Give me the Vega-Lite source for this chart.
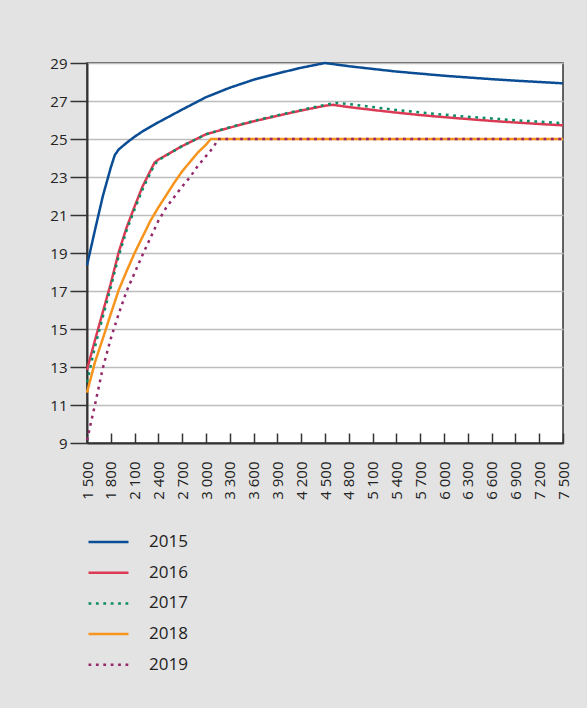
{
  "$schema": "https://vega.github.io/schema/vega-lite/v6.json",
  "width": 476,
  "height": 380,
  "autosize": {"type": "none"},
  "padding": {"left": 87, "top": 63, "right": 24, "bottom": 265},
  "background": "#e3e3e3",
  "config": {
    "font": "Open Sans",
    "view": {"fill": "#ffffff", "stroke": "#333333", "strokeWidth": 1.5}
  },
  "data": {
    "values": [
      {"x": 1500, "v": 18.35, "year": "2015"},
      {"x": 1600, "v": 20.2, "year": "2015"},
      {"x": 1700, "v": 22.0, "year": "2015"},
      {"x": 1800, "v": 23.5, "year": "2015"},
      {"x": 1850, "v": 24.15, "year": "2015"},
      {"x": 1900, "v": 24.45, "year": "2015"},
      {"x": 2000, "v": 24.8, "year": "2015"},
      {"x": 2100, "v": 25.12, "year": "2015"},
      {"x": 2200, "v": 25.4, "year": "2015"},
      {"x": 2400, "v": 25.88, "year": "2015"},
      {"x": 2700, "v": 26.55, "year": "2015"},
      {"x": 3000, "v": 27.2, "year": "2015"},
      {"x": 3300, "v": 27.7, "year": "2015"},
      {"x": 3600, "v": 28.12, "year": "2015"},
      {"x": 3900, "v": 28.45, "year": "2015"},
      {"x": 4200, "v": 28.75, "year": "2015"},
      {"x": 4500, "v": 29.0, "year": "2015"},
      {"x": 4800, "v": 28.83, "year": "2015"},
      {"x": 5100, "v": 28.69, "year": "2015"},
      {"x": 5400, "v": 28.55, "year": "2015"},
      {"x": 5700, "v": 28.44, "year": "2015"},
      {"x": 6000, "v": 28.33, "year": "2015"},
      {"x": 6300, "v": 28.24, "year": "2015"},
      {"x": 6600, "v": 28.15, "year": "2015"},
      {"x": 6900, "v": 28.07, "year": "2015"},
      {"x": 7200, "v": 28.0, "year": "2015"},
      {"x": 7500, "v": 27.93, "year": "2015"},

      {"x": 1500, "v": 12.85, "year": "2016"},
      {"x": 1600, "v": 14.4, "year": "2016"},
      {"x": 1700, "v": 15.9, "year": "2016"},
      {"x": 1800, "v": 17.4, "year": "2016"},
      {"x": 1900, "v": 19.05, "year": "2016"},
      {"x": 2000, "v": 20.35, "year": "2016"},
      {"x": 2100, "v": 21.45, "year": "2016"},
      {"x": 2200, "v": 22.5, "year": "2016"},
      {"x": 2350, "v": 23.75, "year": "2016"},
      {"x": 2400, "v": 23.92, "year": "2016"},
      {"x": 2700, "v": 24.63, "year": "2016"},
      {"x": 3000, "v": 25.25, "year": "2016"},
      {"x": 3300, "v": 25.6, "year": "2016"},
      {"x": 3600, "v": 25.93, "year": "2016"},
      {"x": 3900, "v": 26.22, "year": "2016"},
      {"x": 4200, "v": 26.5, "year": "2016"},
      {"x": 4500, "v": 26.75, "year": "2016"},
      {"x": 4600, "v": 26.8, "year": "2016"},
      {"x": 4800, "v": 26.68, "year": "2016"},
      {"x": 5100, "v": 26.53, "year": "2016"},
      {"x": 5400, "v": 26.39, "year": "2016"},
      {"x": 5700, "v": 26.26, "year": "2016"},
      {"x": 6000, "v": 26.15, "year": "2016"},
      {"x": 6300, "v": 26.05, "year": "2016"},
      {"x": 6600, "v": 25.95, "year": "2016"},
      {"x": 6900, "v": 25.87, "year": "2016"},
      {"x": 7200, "v": 25.79, "year": "2016"},
      {"x": 7500, "v": 25.72, "year": "2016"},

      {"x": 1500, "v": 12.2, "year": "2017"},
      {"x": 1600, "v": 14.05, "year": "2017"},
      {"x": 1700, "v": 15.65, "year": "2017"},
      {"x": 1800, "v": 17.2, "year": "2017"},
      {"x": 1900, "v": 18.85, "year": "2017"},
      {"x": 2000, "v": 20.2, "year": "2017"},
      {"x": 2100, "v": 21.3, "year": "2017"},
      {"x": 2200, "v": 22.35, "year": "2017"},
      {"x": 2350, "v": 23.65, "year": "2017"},
      {"x": 2400, "v": 23.88, "year": "2017"},
      {"x": 2700, "v": 24.63, "year": "2017"},
      {"x": 3000, "v": 25.25, "year": "2017"},
      {"x": 3300, "v": 25.62, "year": "2017"},
      {"x": 3600, "v": 25.95, "year": "2017"},
      {"x": 3900, "v": 26.25, "year": "2017"},
      {"x": 4200, "v": 26.53, "year": "2017"},
      {"x": 4500, "v": 26.8, "year": "2017"},
      {"x": 4650, "v": 26.9, "year": "2017"},
      {"x": 4800, "v": 26.84, "year": "2017"},
      {"x": 5100, "v": 26.68, "year": "2017"},
      {"x": 5400, "v": 26.53, "year": "2017"},
      {"x": 5700, "v": 26.4, "year": "2017"},
      {"x": 6000, "v": 26.28, "year": "2017"},
      {"x": 6300, "v": 26.17, "year": "2017"},
      {"x": 6600, "v": 26.08, "year": "2017"},
      {"x": 6900, "v": 25.99, "year": "2017"},
      {"x": 7200, "v": 25.91, "year": "2017"},
      {"x": 7500, "v": 25.83, "year": "2017"},

      {"x": 1500, "v": 11.65, "year": "2018"},
      {"x": 1600, "v": 13.25, "year": "2018"},
      {"x": 1700, "v": 14.5, "year": "2018"},
      {"x": 1800, "v": 15.8, "year": "2018"},
      {"x": 1900, "v": 17.05, "year": "2018"},
      {"x": 2000, "v": 18.05, "year": "2018"},
      {"x": 2100, "v": 19.0, "year": "2018"},
      {"x": 2200, "v": 19.85, "year": "2018"},
      {"x": 2300, "v": 20.7, "year": "2018"},
      {"x": 2400, "v": 21.4, "year": "2018"},
      {"x": 2500, "v": 22.05, "year": "2018"},
      {"x": 2600, "v": 22.7, "year": "2018"},
      {"x": 2700, "v": 23.3, "year": "2018"},
      {"x": 2800, "v": 23.8, "year": "2018"},
      {"x": 2900, "v": 24.3, "year": "2018"},
      {"x": 3000, "v": 24.7, "year": "2018"},
      {"x": 3060, "v": 25.0, "year": "2018"},
      {"x": 4500, "v": 25.0, "year": "2018"},
      {"x": 7500, "v": 25.0, "year": "2018"},

      {"x": 1500, "v": 9.15, "year": "2019"},
      {"x": 1600, "v": 11.0, "year": "2019"},
      {"x": 1700, "v": 12.95, "year": "2019"},
      {"x": 1800, "v": 14.5, "year": "2019"},
      {"x": 1900, "v": 15.8, "year": "2019"},
      {"x": 2000, "v": 17.0, "year": "2019"},
      {"x": 2100, "v": 17.95, "year": "2019"},
      {"x": 2200, "v": 18.9, "year": "2019"},
      {"x": 2300, "v": 19.8, "year": "2019"},
      {"x": 2400, "v": 20.7, "year": "2019"},
      {"x": 2500, "v": 21.4, "year": "2019"},
      {"x": 2600, "v": 21.95, "year": "2019"},
      {"x": 2700, "v": 22.5, "year": "2019"},
      {"x": 2800, "v": 23.0, "year": "2019"},
      {"x": 2900, "v": 23.6, "year": "2019"},
      {"x": 3000, "v": 24.1, "year": "2019"},
      {"x": 3100, "v": 24.6, "year": "2019"},
      {"x": 3150, "v": 25.0, "year": "2019"},
      {"x": 4500, "v": 25.0, "year": "2019"},
      {"x": 7500, "v": 25.0, "year": "2019"}
    ]
  },
  "mark": {"type": "line"},
  "encoding": {
    "x": {
      "field": "x",
      "type": "quantitative",
      "scale": {"domain": [1500, 7500], "nice": false, "zero": false},
      "axis": {
        "title": null,
        "grid": false,
        "values": [1500, 1800, 2100, 2400, 2700, 3000, 3300, 3600, 3900, 4200, 4500, 4800, 5100, 5400, 5700, 6000, 6300, 6600, 6900, 7200, 7500],
        "labelExpr": "replace(format(datum.value, ',d'), ',', ' ')",
        "labelAngle": -90,
        "labelFontSize": 15,
        "labelColor": "#222222",
        "labelPadding": 28,
        "tickSize": -10,
        "tickColor": "#333333",
        "tickWidth": 1.5,
        "domainColor": "#333333",
        "domainWidth": 2,
        "labelOverlap": false,
        "labelFlush": false
      }
    },
    "y": {
      "field": "v",
      "type": "quantitative",
      "scale": {"domain": [9, 29], "nice": false, "zero": false},
      "axis": {
        "title": null,
        "values": [9, 11, 13, 15, 17, 19, 21, 23, 25, 27, 29],
        "gridColor": "#bdbdbd",
        "gridWidth": 1.5,
        "labelFontSize": 15,
        "labelColor": "#222222",
        "labelPadding": 3,
        "tickSize": 17,
        "tickColor": "#333333",
        "tickWidth": 1.5,
        "domainColor": "#333333",
        "domainWidth": 2,
        "labelOverlap": false,
        "labelFlush": false
      }
    },
    "strokeWidth": {
      "field": "year",
      "type": "nominal",
      "scale": {
        "domain": ["2015", "2016", "2017", "2018", "2019"],
        "range": [2.5, 2.5, 3.5, 2.5, 3.5]
      },
      "legend": null
    },
    "color": {
      "field": "year",
      "type": "nominal",
      "scale": {
        "domain": ["2015", "2016", "2017", "2018", "2019"],
        "range": ["#0a4d94", "#dc3a54", "#0b8c66", "#f7941d", "#93296a"]
      },
      "legend": {
        "orient": "none",
        "legendX": 0,
        "legendY": 469,
        "title": null,
        "padding": 0,
        "symbolType": "stroke",
        "symbolSize": 1600,
        "symbolStrokeWidth": 3.3,
        "clipHeight": 20,
        "rowPadding": 10.7,
        "labelFontSize": 17,
        "labelOffset": 19,
        "labelColor": "#222222"
      }
    },
    "strokeDash": {
      "field": "year",
      "type": "nominal",
      "scale": {
        "domain": ["2015", "2016", "2017", "2018", "2019"],
        "range": [[1, 0], [1, 0], [2.8, 4.6], [1, 0], [2.8, 4.6]]
      },
      "legend": {
        "orient": "none",
        "legendX": 0,
        "legendY": 469,
        "title": null,
        "padding": 0,
        "symbolType": "stroke",
        "symbolSize": 1600,
        "symbolStrokeWidth": 3.3,
        "clipHeight": 20,
        "rowPadding": 10.7,
        "labelFontSize": 17,
        "labelOffset": 19,
        "labelColor": "#222222"
      }
    }
  }
}
